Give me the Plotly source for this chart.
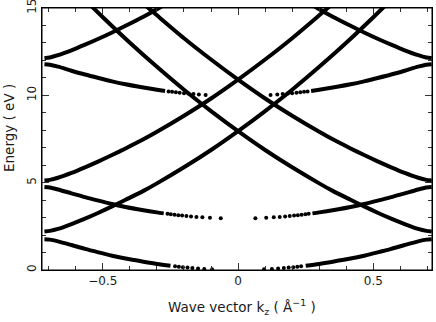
import plotly.graph_objects as go

# ---- data (k in 1/Angstrom, E in eV) ----
A_left_k = [-0.716, -0.696, -0.666, -0.616, -0.566, -0.516, -0.466, -0.416, -0.35, -0.30, -0.25]
A_left_E = [1.76, 1.74, 1.64, 1.43, 1.21, 1.01, 0.82, 0.655, 0.475, 0.349, 0.243]
A_right_k = [0.25, 0.30, 0.35, 0.416, 0.466, 0.516, 0.566, 0.616, 0.666, 0.696, 0.716]
A_right_E = [0.243, 0.349, 0.475, 0.655, 0.82, 1.01, 1.21, 1.43, 1.64, 1.74, 1.76]
A_dots_k = [-0.233, -0.219, -0.204, -0.187, -0.169, -0.148, -0.125, -0.096,
            0.096, 0.125, 0.148, 0.169, 0.187, 0.204, 0.219, 0.233]
A_dots_E = [0.211, 0.186, 0.161, 0.136, 0.111, 0.085, 0.061, 0.036,
            0.036, 0.061, 0.085, 0.111, 0.136, 0.161, 0.186, 0.211]

B_k = [-0.716, -0.696, -0.666, -0.616, -0.566, -0.516, -0.466, -0.416, -0.35, -0.30,
       -0.20, -0.10, 0.0, 0.10, 0.20, 0.30, 0.40, 0.50, 0.56]
B_E = [2.21, 2.24, 2.35, 2.63, 2.94, 3.28, 3.64, 4.02, 4.53, 4.96,
       5.88, 6.87, 7.95, 9.10, 10.32, 11.63, 13.01, 14.47, 15.38]
B2_k = [-0.56, -0.50, -0.40, -0.30, -0.20, -0.10, 0.0, 0.10, 0.20, 0.30,
        0.35, 0.416, 0.466, 0.516, 0.566, 0.616, 0.666, 0.696, 0.716]
B2_E = [15.38, 14.47, 13.01, 11.63, 10.32, 9.10, 7.95, 6.87, 5.88, 4.96,
        4.53, 4.02, 3.64, 3.28, 2.94, 2.63, 2.35, 2.24, 2.21]

C_left_k = [-0.716, -0.696, -0.666, -0.616, -0.566, -0.516, -0.466, -0.416, -0.35, -0.30, -0.275]
C_left_E = [4.75, 4.72, 4.61, 4.39, 4.17, 3.97, 3.78, 3.61, 3.425, 3.30, 3.243]
C_right_k = [0.275, 0.30, 0.35, 0.416, 0.466, 0.516, 0.566, 0.616, 0.666, 0.696, 0.716]
C_right_E = [3.243, 3.30, 3.425, 3.61, 3.78, 3.97, 4.17, 4.39, 4.61, 4.72, 4.75]
C_dots_k = [-0.261, -0.249, -0.235, -0.221, -0.207, -0.191, -0.174, -0.154, -0.132, -0.104, -0.064,
            0.064, 0.104, 0.132, 0.154, 0.174, 0.191, 0.207, 0.221, 0.235, 0.249, 0.261]
C_dots_E = [3.215, 3.19, 3.165, 3.14, 3.115, 3.09, 3.065, 3.04, 3.015, 2.99, 2.965,
            2.965, 2.99, 3.015, 3.04, 3.065, 3.09, 3.115, 3.14, 3.165, 3.19, 3.215]

D_k = [-0.716, -0.696, -0.666, -0.616, -0.566, -0.516, -0.466, -0.416, -0.35, -0.30,
       -0.20, -0.10, 0.0, 0.10, 0.20, 0.30, 0.36]
D_E = [5.13, 5.16, 5.28, 5.56, 5.88, 6.22, 6.58, 6.96, 7.48, 7.91,
       8.83, 9.82, 10.90, 12.05, 13.27, 14.58, 15.38]
D2_k = [-0.36, -0.30, -0.20, -0.10, 0.0, 0.10, 0.20, 0.30, 0.35, 0.416,
        0.466, 0.516, 0.566, 0.616, 0.666, 0.696, 0.716]
D2_E = [15.38, 14.58, 13.27, 12.05, 10.90, 9.82, 8.83, 7.91, 7.48, 6.96,
        6.58, 6.22, 5.88, 5.56, 5.28, 5.16, 5.13]

E_left_k = [-0.716, -0.696, -0.666, -0.616, -0.566, -0.516, -0.466, -0.416, -0.35, -0.30, -0.27]
E_left_E = [11.78, 11.75, 11.64, 11.41, 11.19, 10.99, 10.80, 10.63, 10.445, 10.32, 10.253]
E_right_k = [0.27, 0.30, 0.35, 0.416, 0.466, 0.516, 0.566, 0.616, 0.666, 0.696, 0.716]
E_right_E = [10.253, 10.32, 10.445, 10.63, 10.80, 10.99, 11.19, 11.41, 11.64, 11.75, 11.78]
E_dots_k = [-0.257, -0.244, -0.230, -0.216, -0.200, -0.184, -0.165, -0.145, -0.120,
            0.120, 0.145, 0.165, 0.184, 0.200, 0.216, 0.230, 0.244, 0.257]
E_dots_E = [10.226, 10.201, 10.176, 10.151, 10.126, 10.101, 10.076, 10.051, 10.026,
            10.026, 10.051, 10.076, 10.101, 10.126, 10.151, 10.176, 10.201, 10.226]

F_left_k = [-0.716, -0.696, -0.666, -0.616, -0.566, -0.516, -0.466, -0.416, -0.35, -0.30, -0.26]
F_left_E = [12.13, 12.17, 12.30, 12.58, 12.90, 13.24, 13.60, 13.98, 14.50, 14.93, 15.30]
F_right_k = [0.26, 0.30, 0.35, 0.416, 0.466, 0.516, 0.566, 0.616, 0.666, 0.696, 0.716]
F_right_E = [15.30, 14.93, 14.50, 13.98, 13.60, 13.24, 12.90, 12.58, 12.30, 12.17, 12.13]

x_tick_vals = [-0.5, 0, 0.5]
x_tick_text = ["\u22120.5", "0", "0.5"]
y_tick_vals = [0, 5, 10, 15]
y_tick_text = ["0", "5", "10", "15"]

X_RANGE = [-0.725, 0.717]
Y_RANGE = [0, 15]

FONT = "DejaVu Sans"
INK = "black"
TXT = "#1a1a1a"

fig = go.Figure()

line_sets = [
    (A_left_k, A_left_E), (A_right_k, A_right_E),
    (B_k, B_E), (B2_k, B2_E),
    (C_left_k, C_left_E), (C_right_k, C_right_E),
    (D_k, D_E), (D2_k, D2_E),
    (E_left_k, E_left_E), (E_right_k, E_right_E),
    (F_left_k, F_left_E), (F_right_k, F_right_E),
]
for xs, ys in line_sets:
    fig.add_trace(go.Scatter(x=xs, y=ys, mode="lines",
                             line=dict(color=INK, width=4, shape="spline", smoothing=0.8),
                             hoverinfo="skip", showlegend=False))

for xs, ys in [(A_dots_k, A_dots_E), (C_dots_k, C_dots_E), (E_dots_k, E_dots_E)]:
    fig.add_trace(go.Scatter(x=xs, y=ys, mode="markers",
                             marker=dict(color=INK, size=4, line=dict(width=0)),
                             hoverinfo="skip", showlegend=False))

axis_style = dict(showgrid=False, zeroline=False, showline=True, linecolor="black",
                  linewidth=1, mirror="ticks", ticks="inside", tickcolor="#333333",
                  tickwidth=1, ticklen=7, ticklabeloverflow="allow",
                  tickfont=dict(family=FONT, size=12, color=TXT))

fig.update_layout(
    template="none",
    width=436, height=322,
    margin=dict(l=42, r=4, t=8, b=52, autoexpand=False),
    paper_bgcolor="white", plot_bgcolor="white",
    showlegend=False,
    hovermode=False,
    font=dict(family=FONT, size=12, color=TXT),
    xaxis=dict(range=X_RANGE, tickmode="array", tickvals=x_tick_vals, ticktext=x_tick_text,
               minor=dict(tickmode="linear", tick0=0, dtick=0.1, ticks="inside", ticklen=4,
                          tickcolor="#333333", tickwidth=1, showgrid=False),
               **axis_style),
    yaxis=dict(range=Y_RANGE, tickmode="array", tickvals=y_tick_vals, ticktext=y_tick_text,
               tickangle=-90,
               minor=dict(tickmode="linear", tick0=0, dtick=1, ticks="inside", ticklen=4,
                          tickcolor="#333333", tickwidth=1, showgrid=False),
               **axis_style),
    shapes=[dict(type="rect", xref="paper", yref="paper", x0=0, y0=0, x1=1, y1=1,
                 line=dict(color="black", width=1), fillcolor="rgba(0,0,0,0)", layer="above")],
    annotations=[
        dict(text="Wave vector k<sub>z</sub> ( \u00c5<sup>\u22121</sup> )",
             xref="paper", yref="paper", x=0.514, y=0, yshift=-37,
             xanchor="center", yanchor="middle", showarrow=False,
             font=dict(family=FONT, size=13.5, color=TXT)),
        dict(text="Energy ( eV )", textangle=-90,
             xref="paper", yref="paper", x=0, xshift=-33, y=0.542,
             xanchor="center", yanchor="middle", showarrow=False,
             font=dict(family=FONT, size=13.5, color=TXT)),
    ],
)

# the default page body has an 8px margin; remove it so the 436x322 figure fills the window
fig.write_html("out.html", config={"displayModeBar": False, "staticPlot": True},
               post_script="document.body.style.margin='0px';")
